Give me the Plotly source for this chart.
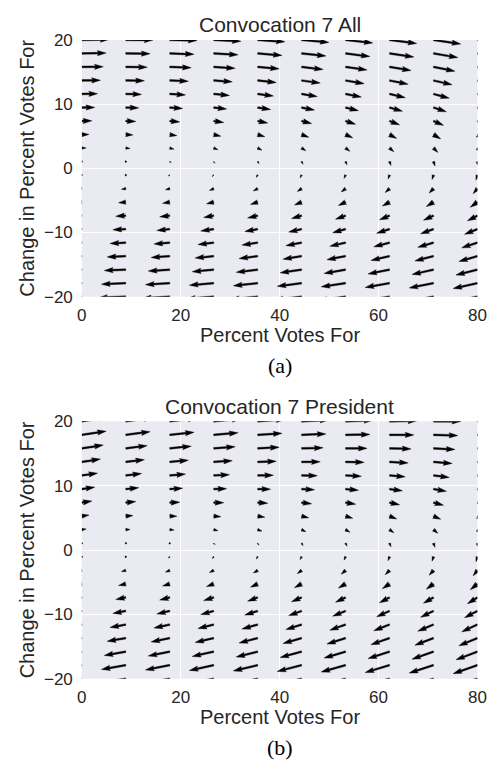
import math
import plotly.graph_objects as go

# ---------------- data ----------------
GRID_X = [0.00, 8.89, 17.78, 26.67, 35.56, 44.44, 53.33, 62.22, 71.11, 80.00]
GRID_Y = [-20.00, -17.89, -15.79, -13.68, -11.58, -9.47, -7.37, -5.26, -3.16, -1.05,
          1.05, 3.16, 5.26, 7.37, 9.47, 11.58, 13.68, 15.79, 17.89, 20.00]

# horizontal component per row (same for every column)
U_ALL = [-20.0, -17.9, -15.8, -13.7, -11.6, -9.5, -7.4, -5.3, -3.2, -1.1,
         1.1, 3.2, 5.3, 7.4, 9.5, 11.6, 13.7, 15.8, 17.9, 20.0]
U_PRES = [-20.0, -17.9, -15.8, -13.7, -11.6, -9.5, -7.4, -5.3, -3.2, -1.1,
          1.1, 3.2, 5.3, 7.4, 9.5, 11.6, 13.7, 15.8, 17.9, 20.0]

# vertical component, rows = GRID_Y (bottom to top), columns = GRID_X
V_ALL = [
    [-0.3, -0.7, -1.1, -1.5, -1.9, -2.3, -2.7, -3.1, -3.5, -4.0],
    [-0.3, -0.7, -1.1, -1.5, -1.9, -2.3, -2.7, -3.1, -3.5, -3.9],
    [-0.2, -0.6, -1.0, -1.5, -1.9, -2.3, -2.7, -3.1, -3.5, -3.9],
    [-0.2, -0.6, -1.0, -1.4, -1.8, -2.2, -2.6, -3.1, -3.5, -3.9],
    [-0.2, -0.6, -1.0, -1.4, -1.8, -2.2, -2.6, -3.0, -3.4, -3.8],
    [-0.1, -0.5, -1.0, -1.4, -1.8, -2.2, -2.6, -3.0, -3.4, -3.8],
    [-0.1, -0.5, -0.9, -1.3, -1.7, -2.1, -2.6, -3.0, -3.4, -3.8],
    [-0.1, -0.5, -0.9, -1.3, -1.7, -2.1, -2.5, -2.9, -3.3, -3.8],
    [0.0, -0.5, -0.9, -1.3, -1.7, -2.1, -2.5, -2.9, -3.3, -3.7],
    [0.0, -0.4, -0.8, -1.2, -1.7, -2.1, -2.5, -2.9, -3.3, -3.7],
    [0.0, -0.4, -0.8, -1.2, -1.6, -2.0, -2.4, -2.9, -3.3, -3.7],
    [0.0, -0.4, -0.8, -1.2, -1.6, -2.0, -2.4, -2.8, -3.2, -3.6],
    [0.1, -0.3, -0.8, -1.2, -1.6, -2.0, -2.4, -2.8, -3.2, -3.6],
    [0.1, -0.3, -0.7, -1.1, -1.5, -1.9, -2.4, -2.8, -3.2, -3.6],
    [0.1, -0.3, -0.7, -1.1, -1.5, -1.9, -2.3, -2.7, -3.1, -3.6],
    [0.2, -0.3, -0.7, -1.1, -1.5, -1.9, -2.3, -2.7, -3.1, -3.5],
    [0.2, -0.2, -0.6, -1.0, -1.5, -1.9, -2.3, -2.7, -3.1, -3.5],
    [0.2, -0.2, -0.6, -1.0, -1.4, -1.8, -2.2, -2.6, -3.1, -3.5],
    [0.3, -0.2, -0.6, -1.0, -1.4, -1.8, -2.2, -2.6, -3.0, -3.4],
    [0.3, -0.1, -0.5, -1.0, -1.4, -1.8, -2.2, -2.6, -3.0, -3.4],
]
V_PRES = [
    [-3.0, -3.4, -3.8, -4.2, -4.6, -5.0, -5.4, -5.7, -6.1, -6.5],
    [-2.7, -3.1, -3.5, -3.9, -4.2, -4.6, -5.0, -5.4, -5.8, -6.2],
    [-2.4, -2.8, -3.2, -3.5, -3.9, -4.3, -4.7, -5.1, -5.5, -5.9],
    [-2.1, -2.4, -2.8, -3.2, -3.6, -4.0, -4.4, -4.8, -5.2, -5.6],
    [-1.7, -2.1, -2.5, -2.9, -3.3, -3.7, -4.1, -4.5, -4.9, -5.3],
    [-1.4, -1.8, -2.2, -2.6, -3.0, -3.4, -3.8, -4.2, -4.6, -4.9],
    [-1.1, -1.5, -1.9, -2.3, -2.7, -3.1, -3.5, -3.9, -4.2, -4.6],
    [-0.8, -1.2, -1.6, -2.0, -2.4, -2.8, -3.1, -3.5, -3.9, -4.3],
    [-0.5, -0.9, -1.3, -1.6, -2.0, -2.4, -2.8, -3.2, -3.6, -4.0],
    [-0.2, -0.6, -0.9, -1.3, -1.7, -2.1, -2.5, -2.9, -3.3, -3.7],
    [0.2, -0.2, -0.6, -1.0, -1.4, -1.8, -2.2, -2.6, -3.0, -3.4],
    [0.5, 0.1, -0.3, -0.7, -1.1, -1.5, -1.9, -2.3, -2.7, -3.1],
    [0.8, 0.4, 0.0, -0.4, -0.8, -1.2, -1.6, -2.0, -2.3, -2.7],
    [1.1, 0.7, 0.3, -0.1, -0.5, -0.9, -1.2, -1.6, -2.0, -2.4],
    [1.4, 1.0, 0.6, 0.3, -0.1, -0.5, -0.9, -1.3, -1.7, -2.1],
    [1.7, 1.4, 1.0, 0.6, 0.2, -0.2, -0.6, -1.0, -1.4, -1.8],
    [2.1, 1.7, 1.3, 0.9, 0.5, 0.1, -0.3, -0.7, -1.1, -1.5],
    [2.4, 2.0, 1.6, 1.2, 0.8, 0.4, 0.0, -0.4, -0.8, -1.2],
    [2.7, 2.3, 1.9, 1.5, 1.1, 0.7, 0.3, -0.1, -0.5, -0.8],
    [3.0, 2.6, 2.2, 1.8, 1.4, 1.0, 0.7, 0.3, -0.1, -0.5],
]

TITLES = ["Convocation 7 All", "Convocation 7 President"]
CAPTIONS = ["(a)", "(b)"]
X_LABEL = "Percent Votes For"
Y_LABEL = "Change in Percent Votes For"
X_TICKS = [0, 20, 40, 60, 80]
Y_TICKS = [-20, -10, 0, 10, 20]
X_RANGE = [0, 80]
Y_RANGE = [-20, 20]

# ---------------- layout / style (pixels) ----------------
FIG_W, FIG_H = 503, 770
P_LEFT, P_RIGHT = 79.0, 486.0
PANELS = [(31.7, 295.0), (422.7, 686.7)]   # (top, bottom) in px
SCALE = 1.4          # px per vector unit
SHAFT = 1.8          # shaft width px
HEADW, HEADL, HEADAX, MINSHAFT, MINLEN = 3.0, 5.0, 4.5, 1.0, 1.0
TEXT = "#262626"
BG = "#EAEAF2"
SANS = "Liberation Sans, Arial, sans-serif"
SERIF = "Liberation Serif, Times New Roman, serif"


def arrow_polygon(x0, y0, u, v, kx, ky):
    dxp, dyp = SCALE * u, SCALE * v
    L = math.hypot(dxp, dyp) / SHAFT
    ang = math.atan2(dyp, dxp)
    minsh = MINSHAFT * HEADL
    if L < MINLEN:
        X = [math.cos(i * math.pi / 3) * 0.5 * MINLEN for i in range(8)]
        Y = [math.sin(i * math.pi / 3) * 0.5 * MINLEN for i in range(8)]
    elif L < minsh:
        s = L / minsh
        bx = [0, minsh - HEADAX, minsh - HEADL, minsh, minsh - HEADL, minsh - HEADAX, 0, 0]
        X = [s * b for b in bx]
        Y = [s * b for b in [0.5, 0.5, 0.5 * HEADW, 0, -0.5 * HEADW, -0.5, -0.5, 0.5]]
    else:
        X = [0, L - HEADAX, L - HEADL, L, L - HEADL, L - HEADAX, 0, 0]
        Y = [0.5, 0.5, 0.5 * HEADW, 0, -0.5 * HEADW, -0.5, -0.5, 0.5]
    ca, sa = math.cos(ang), math.sin(ang)
    xs, ys = [], []
    for a, b in zip(X, Y):
        px = (a * ca - b * sa) * SHAFT
        py = (a * sa + b * ca) * SHAFT
        xs.append(x0 + px / kx)
        ys.append(y0 + py / ky)
    return xs, ys


def px_x(p):
    return p / FIG_W


def px_y(p):
    return 1 - p / FIG_H


fig = go.Figure()
fields = [(U_ALL, V_ALL), (U_PRES, V_PRES)]
annotations = []

for i, ((top, bot), (U, V)) in enumerate(zip(PANELS, fields)):
    kx = (P_RIGHT - P_LEFT) / (X_RANGE[1] - X_RANGE[0])
    ky = (bot - top) / (Y_RANGE[1] - Y_RANGE[0])
    xs, ys = [], []
    for r, yv in enumerate(GRID_Y):
        for c, xv in enumerate(GRID_X):
            ax, ay = arrow_polygon(xv, yv, U[r], V[r][c], kx, ky)
            xs += ax + [None]
            ys += ay + [None]
    suffix = "" if i == 0 else str(i + 1)
    fig.add_trace(go.Scatter(
        x=xs, y=ys, mode="lines", fill="toself", fillcolor="black",
        line=dict(width=0.4, color="black"), hoverinfo="skip", showlegend=False,
        xaxis="x" + suffix, yaxis="y" + suffix))

    axis_common = dict(showgrid=True, gridcolor="white", gridwidth=1.4, zeroline=False,
                       showline=False, ticks="", tickfont=dict(family=SANS, size=17, color=TEXT))
    fig.layout["xaxis" + suffix] = dict(
        domain=[px_x(P_LEFT), px_x(P_RIGHT)], range=X_RANGE, tickvals=X_TICKS,
        anchor="y" + suffix, ticklabelstandoff=6, **axis_common)
    fig.layout["yaxis" + suffix] = dict(
        domain=[px_y(bot), px_y(top)], range=Y_RANGE, tickvals=Y_TICKS,
        anchor="x" + suffix, ticklabelstandoff=8, **axis_common)

    cx = (P_LEFT + P_RIGHT) / 2
    annotations.append(dict(text=TITLES[i], x=px_x(cx), y=px_y(top - 15.5), xref="paper", yref="paper",
                            xanchor="center", yanchor="middle", showarrow=False,
                            font=dict(family=SANS, size=21, color=TEXT)))
    annotations.append(dict(text=X_LABEL, x=px_x(cx), y=px_y(bot + 39.3), xref="paper", yref="paper",
                            xanchor="center", yanchor="middle", showarrow=False,
                            font=dict(family=SANS, size=20, color=TEXT)))
    annotations.append(dict(text=Y_LABEL, x=px_x(23), y=px_y((top + bot) / 2), xref="paper", yref="paper",
                            xanchor="center", yanchor="middle", textangle=-90, showarrow=False,
                            font=dict(family=SANS, size=20, color=TEXT)))
    annotations.append(dict(text=CAPTIONS[i], x=px_x(cx), y=px_y(bot + 70.5), xref="paper", yref="paper",
                            xanchor="center", yanchor="middle", showarrow=False,
                            font=dict(family=SERIF, size=22, color="black")))

fig.update_layout(
    width=FIG_W, height=FIG_H, margin=dict(l=0, r=0, t=0, b=0),
    paper_bgcolor="white", plot_bgcolor=BG, annotations=annotations,
    showlegend=False,
)

fig.write_html("out.html",
               post_script="document.body.style.margin='0';document.body.style.overflow='hidden';")
